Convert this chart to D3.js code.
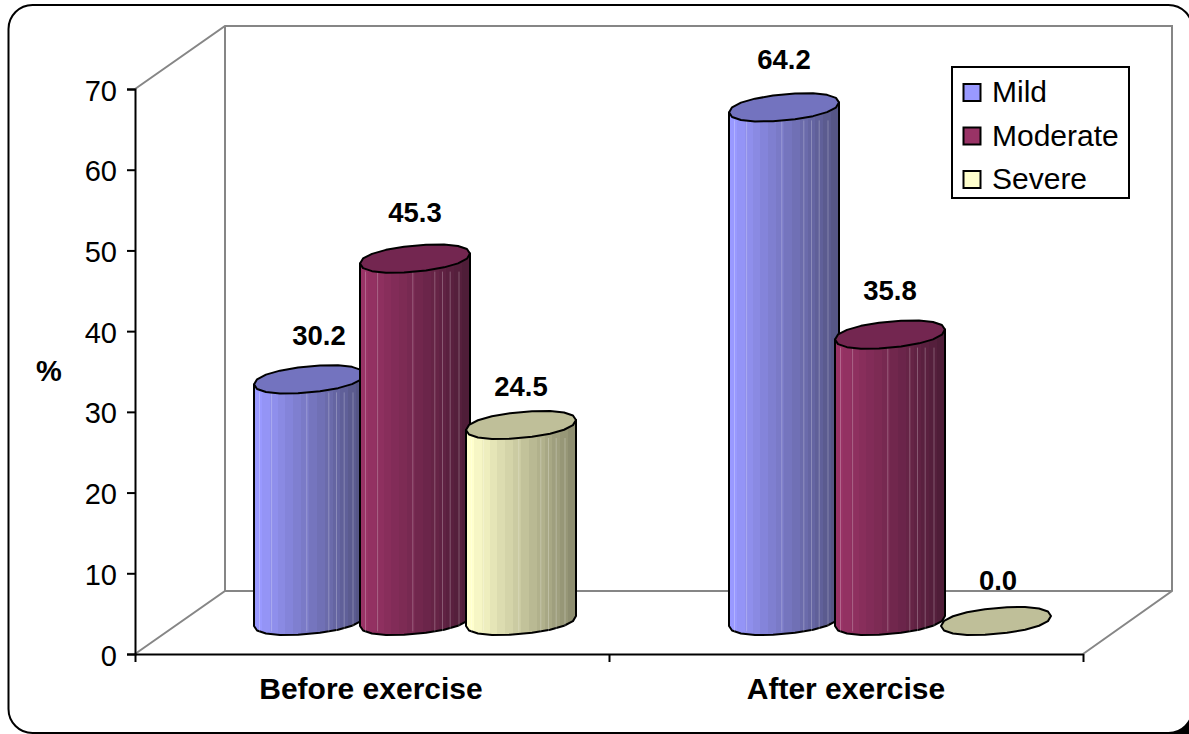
<!DOCTYPE html>
<html lang="en">
<head>
<meta charset="UTF-8">
<title>Exercise</title>
<style>
    html,body{margin:0;padding:0;background:#fff;}
    svg{display:block;}
    text{font-family:"Liberation Sans",Arial,sans-serif;fill:#000;}
    .tick-label{font-size:29px;}
    .bold{font-weight:bold;}
</style>
<script src="https://d3js.org/d3.v7.min.js"></script>
</head>
<body>
<svg id="chart" width="1189" height="734" viewBox="0 0 1189 734"></svg>
<script>
const groups = ["Before exercise", "After exercise"]
const seriesNames = ["Mild", "Moderate", "Severe"]
const mild = [30.2, 64.2]
const moderate = [45.3, 35.8]
const severe = [24.5, 0.0]
const yTicks = [0, 10, 20, 30, 40, 50, 60, 70]
const sideStart = ["#9999ff", "#993366", "#ffffcc"]
const sideEnd = ["#565686", "#4f1d38", "#8e8e70"]
const topColors = ["#7373bf", "#732650", "#bfbf99"]

const svg = d3.select("#chart")

// black corner behind the frame, bottom right
svg.append("rect").attr("x", 1165).attr("y", 708).attr("width", 24).attr("height", 26).attr("fill", "#000")

// outer frame
svg.append("rect").attr("x", 8.5).attr("y", 5).attr("width", 1184).attr("height", 728)
    .attr("rx", 24).attr("fill", "#fff").attr("stroke", "#000").attr("stroke-width", 2)

// scales: front axis plane, the plane the cylinders stand on, and the value labels
const y = d3.scaleLinear().domain([0, 70]).range([654, 89])
const yBar = d3.scaleLinear().domain([0, 70]).range([621, 61])
const yLabel = d3.scaleLinear().domain([0, 70]).range([590, 22])
const x0 = d3.scaleBand().domain(d3.range(groups.length)).range([177.5, 1127.5])
const x1 = d3.scaleBand().domain(d3.range(seriesNames.length)).range([-159, 159])
const depthX = 90, depthY = -63

// walls
const frontL = 135, frontR = 1083
const wall = svg.append("g").attr("fill", "none").attr("stroke", "#868686").attr("stroke-width", 2)
wall.append("path").attr("d", d3.line()([
    [frontL, y(70)], [frontL + depthX, y(70) + depthY], [frontR + depthX - 1, y(70) + depthY],
    [frontR + depthX - 1, y(0) + depthY], [frontR, y(0)]
]))
wall.append("path").attr("d", d3.line()([
    [frontL, y(0)], [frontL + depthX, y(0) + depthY], [frontR + depthX - 1, y(0) + depthY]
]))
wall.append("path").attr("d", d3.line()([[frontL + depthX, y(0) + depthY], [frontL + depthX, y(70) + depthY]]))

// axes
const yAxis = d3.axisLeft(y).tickValues(yTicks).tickSize(8).tickPadding(10)
const yG = svg.append("g").attr("transform", `translate(${frontL},0)`).call(yAxis)
yG.selectAll("text").attr("class", "tick-label").attr("dy", "0.38em")
yG.selectAll("line,path").attr("stroke", "#000").attr("stroke-width", 2)

const xTick = d3.scaleLinear().domain([0, 2]).range([frontL, frontR])
const xAxis = d3.axisBottom(xTick).tickValues([0, 1, 2]).tickSize(8).tickSizeOuter(0).tickFormat("")
const xG = svg.append("g").attr("transform", `translate(0,${y(0)})`).call(xAxis)
xG.selectAll("line,path").attr("stroke", "#000").attr("stroke-width", 2)

groups.forEach((g, i) => {
    svg.append("text").attr("class", "bold").attr("font-size", 30)
        .attr("x", x0(i) + x0.bandwidth() / 2 - 44).attr("y", 699)
        .attr("text-anchor", "middle").text(g)
})

svg.append("text").attr("class", "bold").attr("font-size", 29).attr("x", 49).attr("y", 381)
    .attr("text-anchor", "middle").text("%")

// cylinder gradients, stepped like the facets of the original
const defs = svg.append("defs")
const nSteps = 14
seriesNames.forEach((s, k) => {
    const grad = defs.append("linearGradient").attr("id", "side" + k)
    const col = d3.interpolateRgb(sideStart[k], sideEnd[k])
    d3.range(nSteps).forEach(j => {
        grad.append("stop").attr("offset", j / nSteps).attr("stop-color", col(j / (nSteps - 1)))
        grad.append("stop").attr("offset", (j + 1) / nSteps).attr("stop-color", col(j / (nSteps - 1)))
    })
})

// ellipse outline, tilted and faceted
const rx = 55, ry = 13, tilt = 5, round = 0.92
function ellipsePts(cx, cy, from, to, n) {
    return d3.range(n + 1).map(j => {
        const t = from + (to - from) * j / n
        const c = Math.sign(Math.cos(t)) * Math.pow(Math.abs(Math.cos(t)), round)
        const s = Math.sign(Math.sin(t)) * Math.pow(Math.abs(Math.sin(t)), round)
        return [cx + rx * c, cy + ry * s - tilt * c]
    })
}
const line = d3.line()
const values = [mild, moderate, severe]
const facets = [0.05, 0.16, 0.48, 0.68, 0.75, 0.82, 0.9]

groups.forEach((g, i) => {
    seriesNames.forEach((s, k) => {
        const v = values[k][i]
        const cx = x0(i) + x0.bandwidth() / 2 + x1(k) + x1.bandwidth() / 2
        const yTop = yBar(v), yBase = yBar(0)
        const bar = svg.append("g")
        if (v > 0) {
            // side: down the left, round the front of the base, up the right
            const lower = ellipsePts(cx, yBase, Math.PI, 0, 9)
            const pts = [[cx - rx, yTop + tilt]].concat(lower, [[cx + rx, yTop - tilt]])
            bar.append("path").attr("d", line(pts) + "Z").attr("fill", `url(#side${k})`)
                .attr("stroke", "#000").attr("stroke-width", 2).attr("stroke-linejoin", "round")
            facets.forEach(f => {
                bar.append("line").attr("x1", cx - rx + f * 2 * rx).attr("x2", cx - rx + f * 2 * rx)
                    .attr("y1", yTop + ry).attr("y2", yBase + ry * 0.8)
                    .attr("stroke", "#fff").attr("stroke-opacity", 0.25).attr("stroke-width", 1)
            })
        }
        bar.append("path").attr("d", line(ellipsePts(cx, yTop, 0, 2 * Math.PI, 18)) + "Z")
            .attr("fill", topColors[k]).attr("stroke", "#000").attr("stroke-width", 2)
            .attr("stroke-linejoin", "round")
        // a couple of labels sit off the line in the original
        const nudgeX = (i == 0 && k == 0) ? 10 : (i == 1 && k == 2) ? 2 : 0
        const nudgeY = (i == 0 && k == 2) ? 5 : 0
        svg.append("text").attr("class", "bold").attr("font-size", 27.5)
            .attr("x", cx + nudgeX).attr("y", yLabel(v) + nudgeY).attr("text-anchor", "middle").text(d3.format(".1f")(v))
    })
})

// legend
const legend = svg.append("g").attr("transform", "translate(952,67)")
legend.append("rect").attr("width", 177).attr("height", 131).attr("fill", "#fff")
    .attr("stroke", "#000").attr("stroke-width", 2)
seriesNames.forEach((s, k) => {
    const row = legend.append("g").attr("transform", `translate(0,${25 + k * 43.5})`)
    row.append("rect").attr("x", 11.5).attr("y", -8).attr("width", 17).attr("height", 17)
        .attr("fill", sideStart[k]).attr("stroke", "#000").attr("stroke-width", 2)
    row.append("text").attr("x", 40).attr("y", 10).attr("font-size", 30).text(s)
})
</script>
</body>
</html>
